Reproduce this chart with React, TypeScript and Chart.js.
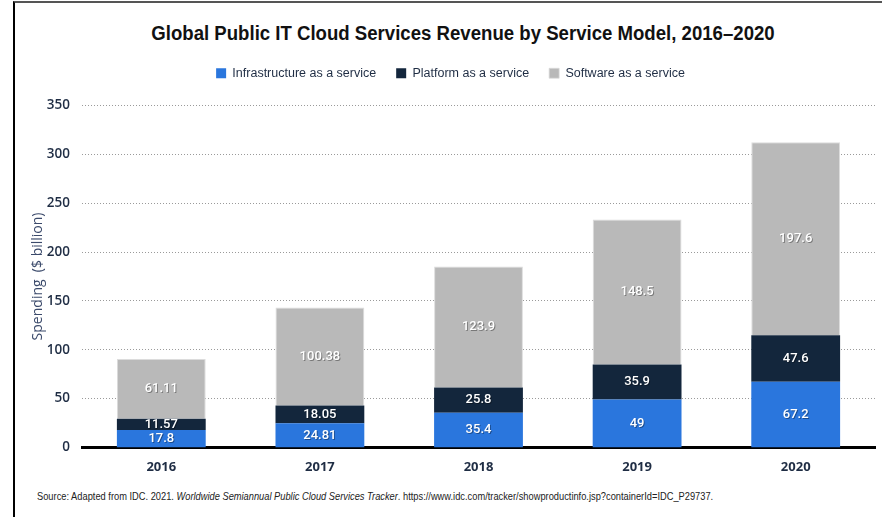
import React, { useEffect, useRef } from "react";
import { Chart, registerables } from "chart.js";

Chart.register(...registerables);

const years = ["2016", "2017", "2018", "2019", "2020"];
const infrastructure = [17.8, 24.81, 35.4, 49, 67.2];
const platform = [11.57, 18.05, 25.8, 35.9, 47.6];
const software = [61.11, 100.38, 123.9, 148.5, 197.6];
const seriesNames = ["Infrastructure as a service", "Platform as a service", "Software as a service"];
const yTicks = [0, 50, 100, 150, 200, 250, 300, 350];

const titleText = "Global Public IT Cloud Services Revenue by Service Model, 2016–2020";
const yAxisTitle = "Spending  ($ billion)";

const SANS = "'Liberation Sans', Arial, sans-serif";

const segmentLabels = {
  id: "segmentLabels",
  afterDatasetsDraw(chart: any) {
    const ctx = chart.ctx;
    chart.data.datasets.forEach((ds: any, i: number) => {
      const meta = chart.getDatasetMeta(i);
      meta.data.forEach((bar: any, j: number) => {
        const v = ds.data[j];
        const p = bar.getProps(["x", "y", "base"], true);
        const cy = (p.y + p.base) / 2;
        ctx.save();
        ctx.font = "500 13px Roboto, 'Open Sans', sans-serif";
        ctx.textAlign = "center";
        ctx.textBaseline = "middle";
        ctx.fillStyle = "rgba(0,0,0,0.35)";
        ctx.fillText(String(v), p.x + 1, cy + 1);
        ctx.fillStyle = "#ffffff";
        ctx.fillText(String(v), p.x, cy);
        ctx.restore();
      });
    });
  },
};

const legendMargin = {
  id: "legendMargin",
  beforeInit(chart: any) {
    const legend = chart.legend;
    if (!legend) return;
    const origFit = legend.fit;
    legend.fit = function () {
      origFit.bind(legend)();
      this.height += 16;
    };
  },
};

export default function App() {
  const canvasRef = useRef<HTMLCanvasElement | null>(null);

  useEffect(() => {
    if (!canvasRef.current) return;
    const chart = new Chart(canvasRef.current, {
      type: "bar",
      data: {
        labels: years,
        datasets: [
          {
            label: seriesNames[0],
            data: infrastructure,
            backgroundColor: "#2a76dd",
            borderWidth: 0,
            barPercentage: 0.56,
            categoryPercentage: 1,
          },
          {
            label: seriesNames[1],
            data: platform,
            backgroundColor: "#13263c",
            borderWidth: 0,
            barPercentage: 0.56,
            categoryPercentage: 1,
          },
          {
            label: seriesNames[2],
            data: software,
            backgroundColor: "#b9b9b9",
            borderColor: "#dcdcdc",
            borderWidth: { top: 1, left: 1, right: 1, bottom: 0 },
            barPercentage: 0.56,
            categoryPercentage: 1,
          },
        ],
      },
      options: {
        animation: false,
        responsive: true,
        maintainAspectRatio: false,
        layout: { padding: { top: 12, left: 11, right: 7, bottom: 0 } },
        plugins: {
          legend: {
            position: "top",
            labels: {
              boxWidth: 10,
              boxHeight: 10,
              padding: 20,
              color: "#1f2d44",
              font: { family: SANS, size: 12.5 },
            },
          },
          title: { display: false },
          tooltip: { enabled: false },
        },
        scales: {
          x: {
            stacked: true,
            grid: { display: false, drawTicks: false },
            border: { display: true, color: "#000000", width: 3 },
            ticks: {
              color: "#1f2d44",
              padding: 12,
              font: { family: "'Open Sans', sans-serif", size: 13, weight: "bold" },
            },
          },
          y: {
            stacked: true,
            min: 0,
            max: 350,
            afterFit(scale: any) {
              scale.width = 56;
            },
            afterBuildTicks(scale: any) {
              scale.ticks = yTicks.map((v) => ({ value: v }));
            },
            grid: {
              drawTicks: false,
              color: "#9a9a9a",
              lineWidth: (c: any) => (c.tick && c.tick.value === 0 ? 0 : 1),
            },
            border: { display: false, dash: [1, 2] },
            ticks: {
              color: "#1f2d44",
              padding: 12,
              font: { family: "'Open Sans', sans-serif", size: 13.5, weight: 600 },
            },
            title: {
              display: true,
              text: yAxisTitle,
              color: "#3b4a6b",
              font: { family: "'Open Sans', sans-serif", size: 14 },
            },
          },
        },
      },
      plugins: [segmentLabels, legendMargin],
    });
    return () => chart.destroy();
  }, []);

  return (
    <div
      style={{
        position: "fixed",
        left: 0,
        top: 0,
        width: 882,
        height: 517,
        background: "#ffffff",
        overflow: "hidden",
      }}
    >
      <div
        style={{
          position: "absolute",
          left: 13,
          top: 1,
          right: 0,
          bottom: 0,
          borderLeft: "2px solid #000000",
          borderTop: "2px solid #555555",
        }}
      />
      <div
        style={{
          position: "absolute",
          left: 100,
          width: 726,
          top: 22,
          textAlign: "center",
          fontFamily: SANS,
          fontWeight: "bold",
          fontSize: 20,
          color: "#111111",
          whiteSpace: "nowrap",
          transform: "scaleX(0.93)",
          transformOrigin: "center",
        }}
      >
        {titleText}
      </div>
      <div style={{ position: "absolute", left: 15, top: 35, width: 867, height: 452 }}>
        <canvas ref={canvasRef} />
      </div>
      <div
        style={{
          position: "absolute",
          left: 37,
          top: 490,
          fontFamily: SANS,
          fontSize: 10.5,
          color: "#222222",
          whiteSpace: "nowrap",
          transform: "scaleX(0.885)",
          transformOrigin: "left",
        }}
      >
        Source: Adapted from IDC. 2021. <i>Worldwide Semiannual Public Cloud Services Tracker</i>. https://www.idc.com/tracker/showproductinfo.jsp?containerId=IDC_P29737.
      </div>
    </div>
  );
}
